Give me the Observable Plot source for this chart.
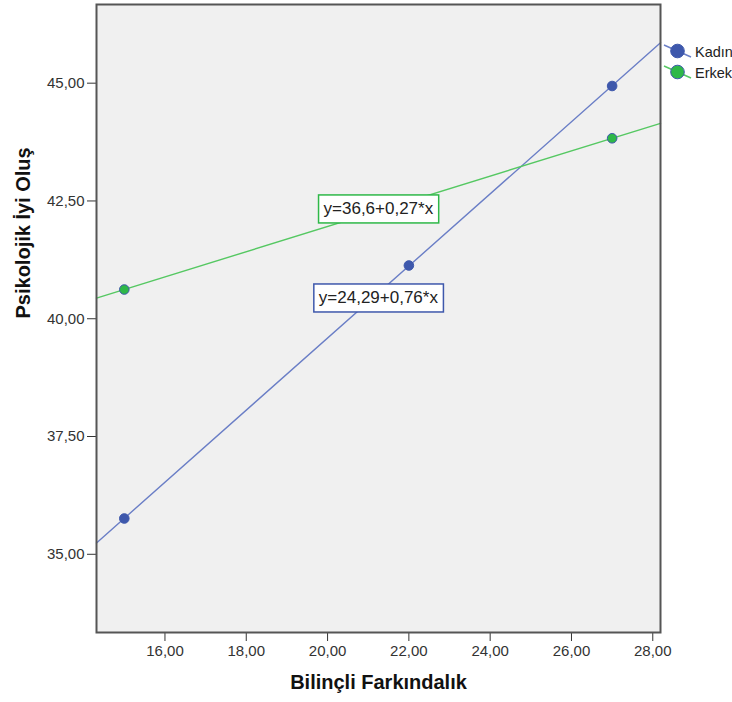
<!DOCTYPE html>
<html>
<head>
<meta charset="utf-8">
<script src="https://cdn.jsdelivr.net/npm/d3@7"></script>
<script src="https://cdn.jsdelivr.net/npm/@observablehq/plot@0.6"></script>
<style>
  html, body { margin: 0; padding: 0; background: #ffffff; }
  svg { display: block; }
</style>
</head>
<body>
<script>
// ---- data ----
const groups = ["Kadın", "Erkek"];
const groupColors = ["#3e58ac", "#2eb848"];
const lineColors = ["#6a7ec6", "#55c862"];
const pointStroke = ["#3e58ac", "#3e58ac"];

const kadinX = [15, 22, 27];
const kadinY = [35.76, 41.13, 44.94];
const erkekX = [15, 27];
const erkekY = [40.62, 43.83];

const xTicks = [16, 18, 20, 22, 24, 26, 28];
const yTicks = [35, 37.5, 40, 42.5, 45];
const xDomain = [14.316, 28.19];
const yDomain = [33.34, 46.67];

const eqLabels = ["y=36,6+0,27*x", "y=24,29+0,76*x"];
const eqX = [21.25, 21.25];
const eqY = [42.34, 40.45];
const eqColors = ["#2eb848", "#3e58ac"];

const xTitle = "Bilinçli Farkındalık";
const yTitle = "Psikolojik İyi Oluş";

// ---- build tables ----
const fmt = d => d3.format(".2f")(d).replace(".", ",");
const points = [
  ...kadinX.map((x, i) => ({x, y: kadinY[i], g: groups[0]})),
  ...erkekX.map((x, i) => ({x, y: erkekY[i], g: groups[1]}))
];
function fit(xs, ys) {
  const mx = d3.mean(xs), my = d3.mean(ys);
  const b = d3.sum(xs, (x, i) => (x - mx) * (ys[i] - my)) / d3.sum(xs, x => (x - mx) ** 2);
  return [my - b * mx, b];
}
const fits = [fit(kadinX, kadinY), fit(erkekX, erkekY)];
const fitLines = [];
fits.forEach(([a, b], i) => {
  xDomain.forEach(x => fitLines.push({x, y: a + b * x, g: groups[i]}));
});
const eqs = eqLabels.map((t, i) => ({t, x: eqX[i], y: eqY[i], c: eqColors[i]}));

const colorOf = g => groupColors[groups.indexOf(g)];
const lineOf = g => lineColors[groups.indexOf(g)];
const pstrokeOf = g => pointStroke[groups.indexOf(g)];

const chart = Plot.plot({
  width: 732,
  height: 702,
  marginLeft: 96,
  marginRight: 72,
  marginTop: 4,
  marginBottom: 70,
  style: {fontFamily: "'Liberation Sans', Arial, sans-serif", fontSize: "15px", color: "#333", background: "#ffffff"},
  x: {domain: xDomain, ticks: xTicks, tickFormat: fmt, tickSize: 9, tickPadding: 4, label: null},
  y: {domain: yDomain, ticks: yTicks, tickFormat: fmt, tickSize: 9, tickPadding: 3, label: null},
  marks: [
    Plot.frame({fill: "#f0f0f0", stroke: null}),
    Plot.line(fitLines, {x: "x", y: "y", z: "g", stroke: d => lineOf(d.g), strokeWidth: 1.4}),
    Plot.dot(points, {x: "x", y: "y", r: 4.8, fill: d => colorOf(d.g), stroke: d => pstrokeOf(d.g), strokeWidth: 1}),
    Plot.text(eqs, {x: "x", y: "y", text: "t", fontSize: 17, fill: "#222"}),
    Plot.frame({stroke: "#555", strokeWidth: 2}),
    Plot.text([xTitle], {frameAnchor: "bottom", dy: 56, text: d => d, fontWeight: "bold", fontSize: 20, fill: "#111"}),
    Plot.text([yTitle], {frameAnchor: "left", dx: -73, rotate: -90, text: d => d, fontWeight: "bold", fontSize: 20, fill: "#111"})
  ]
});
document.body.append(chart);

// boxes around equation labels
const svgSel = d3.select(chart);
svgSel.selectAll("text").each(function() {
  const i = eqLabels.indexOf(this.textContent);
  if (i < 0) return;
  const bb = this.getBBox();
  const padX = 5, padY = 5;
  const r = document.createElementNS("http://www.w3.org/2000/svg", "rect");
  r.setAttribute("x", bb.x - padX);
  r.setAttribute("y", bb.y - padY + 1);
  r.setAttribute("width", bb.width + 2 * padX);
  r.setAttribute("height", bb.height + 2 * padY - 1);
  r.setAttribute("fill", "#ffffff");
  r.setAttribute("stroke", eqColors[i]);
  r.setAttribute("stroke-width", 1.5);
  const tr = this.getAttribute("transform");
  if (tr) r.setAttribute("transform", tr);
  this.parentNode.insertBefore(r, this);
});

// legend on the right
const lg = svgSel.append("g")
  .attr("font-family", "'Liberation Sans', Arial, sans-serif")
  .attr("font-size", 14.5)
  .attr("text-anchor", "start");
groups.forEach((g, i) => {
  const cy = 51 + i * 21;
  lg.append("line").attr("x1", 664).attr("y1", cy - 6).attr("x2", 691).attr("y2", cy + 6)
    .attr("stroke", lineColors[i]).attr("stroke-width", 1.4);
  lg.append("circle").attr("cx", 677.5).attr("cy", cy).attr("r", 6.8)
    .attr("fill", groupColors[i]).attr("stroke", pointStroke[i]).attr("stroke-width", 1);
  lg.append("text").attr("x", 695).attr("y", cy + 6).attr("fill", "#222")
    .attr("text-anchor", "start").text(g);
});
</script>
</body>
</html>
